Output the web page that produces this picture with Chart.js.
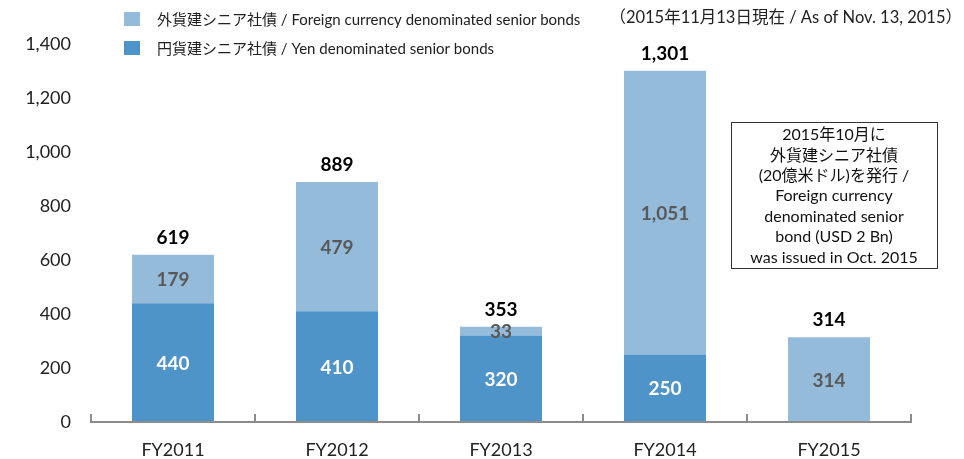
<!DOCTYPE html>
<html><head><meta charset="utf-8">
<script src="https://cdn.jsdelivr.net/npm/chart.js@4"></script>
<style>html,body{margin:0;padding:0;background:#fff}#wrap{width:964px;height:459px}</style>
</head><body><div id="wrap"><canvas id="c" width="964" height="459"></canvas></div>
<script>
const categories = ['FY2011','FY2012','FY2013','FY2014','FY2015'];
const yenValues = [440, 410, 320, 250, 0];
const foreignValues = [179, 479, 33, 1051, 314];
const totals = [619, 889, 353, 1301, 314];
const yTicks = [0,200,400,600,800,1000,1200,1400];
const seriesLabels = ['円貨建シニア社債 / Yen denominated senior bonds','外貨建シニア社債 / Foreign currency denominated senior bonds'];
const noteText = '（2015年11月13日現在 / As of Nov. 13, 2015）';
const boxLines = ['2015年10月に','外貨建シニア社債','(20億米ドル)を発行 /','Foreign currency','denominated senior','bond (USD 2 Bn)','was issued in Oct. 2015'];

const FONT = "Lato, 'Noto Sans CJK JP', sans-serif";
const DARK = '#4F94C9', LIGHT = '#94BBDA';
const fmt = v => v.toLocaleString('en-US');

const overlay = {
  id:'overlay',
  afterDatasetsDraw(chart){
    const ctx = chart.ctx;
    const x = chart.scales.x;
    ctx.save();
    ctx.strokeStyle = '#8c8c8c'; ctx.lineWidth = 2;
    const bottom = chart.chartArea.bottom;
    const step = x.getPixelForValue(1)-x.getPixelForValue(0);
    ctx.beginPath();
    ctx.moveTo(chart.chartArea.left, bottom); ctx.lineTo(chart.chartArea.right, bottom);
    for(let i=0;i<=categories.length;i++){
      const px = x.getPixelForValue(0) - step/2 + i*step;
      ctx.moveTo(px, bottom+1); ctx.lineTo(px, bottom-8);
    }
    ctx.stroke();
    ctx.textAlign='center'; ctx.textBaseline='middle';
    ctx.font = "bold 19px " + FONT;
    chart.data.datasets.forEach((ds,di)=>{
      const meta = chart.getDatasetMeta(di);
      meta.data.forEach((el,i)=>{
        const v = ds.data[i];
        if(!v) return;
        ctx.fillStyle = di===0 ? '#ffffff' : '#595959';
        ctx.fillText(fmt(v), el.x, (el.y+el.base)/2 + 1);
      });
    });
    const top = chart.getDatasetMeta(1);
    ctx.fillStyle='#000';
    top.data.forEach((el,i)=>{
      ctx.fillText(fmt(totals[i]), el.x, el.y - 17);
    });
    ctx.textAlign='left';
    ctx.font = "15px " + FONT;
    const leg = [[1,LIGHT,19],[0,DARK,48]];
    leg.forEach(([di,col,cy])=>{
      ctx.fillStyle = col; ctx.fillRect(124, cy-7, 16, 14);
      ctx.fillStyle = '#222';
      ctx.fillText(chart.data.datasets[di].label, 157, cy+1);
    });
    ctx.textAlign='right';
    ctx.font = "16.5px " + FONT;
    ctx.fillStyle='#222';
    ctx.fillText(noteText, 962, 18);
    ctx.strokeStyle='#333'; ctx.lineWidth=1;
    ctx.strokeRect(731.5,122.5,206,146);
    ctx.textAlign='center';
    ctx.font = "16px " + FONT;
    ctx.fillStyle='#111';
    boxLines.forEach((t,i)=>ctx.fillText(t, 834, 135 + i*20.4));
    ctx.restore();
  }
};

new Chart(document.getElementById('c'),{
  type:'bar',
  data:{
    labels:categories,
    datasets:[
      {label:seriesLabels[0], data:yenValues, backgroundColor:DARK, stack:'s', barPercentage:0.5, categoryPercentage:1.0},
      {label:seriesLabels[1], data:foreignValues, backgroundColor:LIGHT, stack:'s', barPercentage:0.5, categoryPercentage:1.0}
    ]
  },
  options:{
    responsive:false, animation:false,
    layout:{padding:{top:44,right:53,left:0,bottom:0}},
    plugins:{legend:{display:false},tooltip:{enabled:false}},
    scales:{
      x:{stacked:true, grid:{display:false, drawTicks:false}, border:{display:false},
        ticks:{color:'#222', font:{family:FONT,size:18}, padding:17},
        afterFit(s){ s.height = 37; }},
      y:{stacked:true, min:0, max:1400, grid:{display:false, drawTicks:false}, border:{display:false},
        afterBuildTicks(s){ s.ticks = yTicks.map(v=>({value:v})); },
        ticks:{color:'#222', font:{family:FONT,size:18}, padding:20, callback:v=>fmt(v)},
        afterFit(s){ s.width = 91; }}
    }
  },
  plugins:[overlay]
});
</script></body></html>
